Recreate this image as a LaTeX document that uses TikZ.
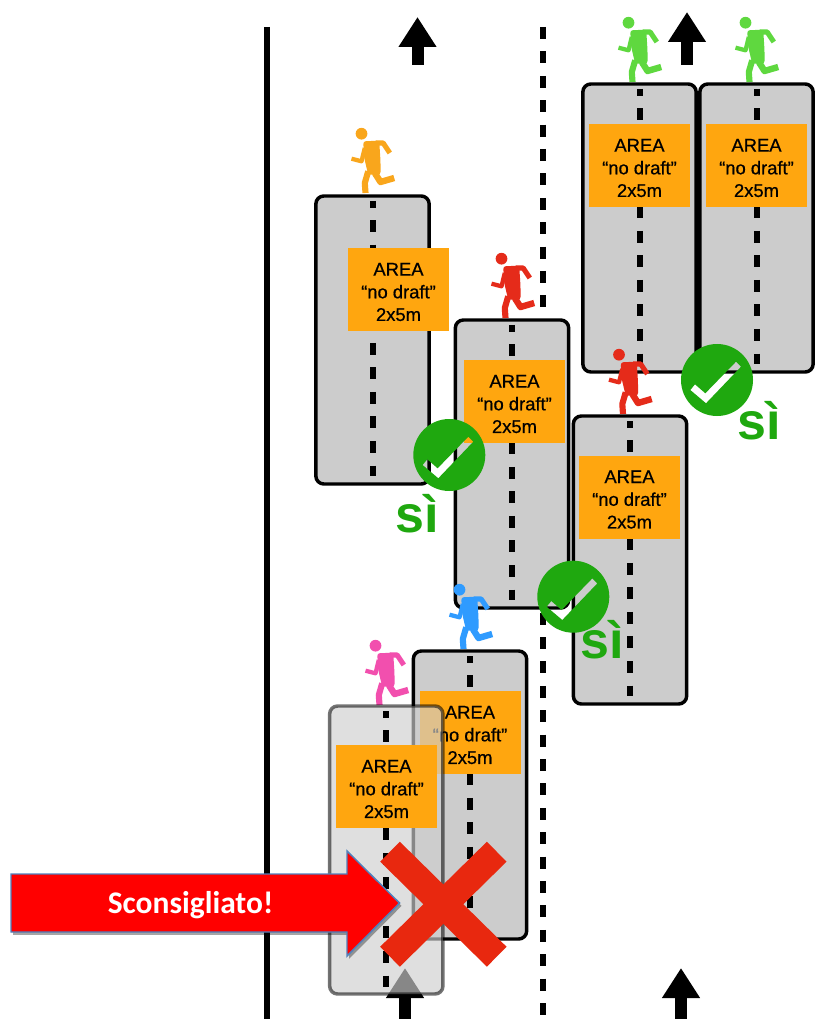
\documentclass[tikz,border=0pt]{standalone}
\usepackage{fontspec}
\setmainfont{Liberation Sans}
\newfontfamily\areafont[FakeBold=0.6]{Liberation Sans}
\newfontfamily\warnfont{Carlito}
\usetikzlibrary{arrows.meta,shadows}
\definecolor{lanegray}{HTML}{CCCCCC}
\definecolor{fadegray}{gray}{.81}
\definecolor{areaorange}{HTML}{FFA60F}
\definecolor{badgegreen}{HTML}{1FA80F}
\definecolor{crossred}{HTML}{E8280F}
\definecolor{warnblue}{HTML}{4F81BD}
\definecolor{runorange}{HTML}{F9A61C}
\definecolor{runred}{HTML}{E52B1A}
\definecolor{rungreen}{HTML}{5FD83F}
\definecolor{runblue}{HTML}{2F9BFF}
\definecolor{runpink}{HTML}{F24FAE}
\newcommand{\areatext}{\rule{0pt}{13.3pt}AREA\\“no draft”\\2x5m}
\tikzset{
	lanebox/.style={draw=black,fill=lanegray,line width=2.6pt,rounded corners=6pt,minimum width=85pt,minimum height=216pt,inner sep=0pt},
	lanedash/.style={line width=4.5pt,dash pattern=on 9pt off 9.4pt,dash phase=4pt},
	areabox/.style={fill=areaorange,minimum width=75.75pt,minimum height=62.25pt,inner sep=0pt,align=center,font=\areafont\fontsize{13.8}{17}\selectfont},
	uparrow/.style={line width=9pt,-{Triangle[width=27pt,length=22.5pt]}},
	silabel/.style={text=badgegreen,anchor=base,inner sep=0pt,font=\fontsize{39}{39}\selectfont\bfseries},
	pics/runner/.style={code={
		\fill[#1] (-4,-59.3) circle (4.4pt);
		\fill[#1,rounded corners=2pt] (-2.3,-51.7) -- (13.7,-52.3) -- (15,-31.7) -- (15,-18.3) -- (2.7,-18.3) -- (-1.3,-35) -- cycle;
		\draw[#1,line width=3.8pt,line join=round] (10,-50) -- (17.7,-50) -- (24.3,-40);
		\draw[#1,line width=3.2pt,line join=round] (-0.7,-45) -- (-4,-31.7) -- (-14,-34.3);
		\draw[#1,line width=4.8pt,line join=round] (9.3,-20) -- (15,-11) -- (28.7,-15);
		\draw[#1,line width=4.6pt,line join=round] (2.7,-21.7) -- (-0.7,-10) -- (0,0);
	}},
}
\begin{document}
\begin{tikzpicture}[x=0.75pt,y=-0.75pt]
	\useasboundingbox (0,0) rectangle (816,1019);
	\fill[white] (0,0) rectangle (816,1019);
	%Road lines
	\coordinate (edgetop) at (267,27);
	\coordinate (edgebottom) at (267,1019);
	\coordinate (middletop) at (543,27);
	\coordinate (middlebottom) at (543,1019);
	\draw[line width=4.5pt] (edgetop) -- (edgebottom);
	\draw[line width=4.5pt,dash pattern=on 9pt off 9.3pt] (middletop) -- (middlebottom);
	%Direction arrows
	\foreach \x/\ya/\yb in {417.5/65/17,687/65/12,405/1019/968,681/1019/968}
		{
			\draw[uparrow] (\x,\ya) -- (\x,\yb);
		}
	%Lanes
	\foreach \name/\x/\y/\ax/\ay in {F/470/795/470/732.5,A/372.5/340/398.5/289.5,B/512/464/514.5/401.5,C/630/560/629.5/497,D/639.5/228/639.5/165.5,E/756.5/228/756.5/165.5}
		{
			\node[lanebox] (lane\name) at (\x,\y) {};
			\draw[lanedash] (\x,\y-139) -- (\x,\y+136);
			\node[areabox] (area\name) at (\ax,\ay) {\areatext};
		}
	%Runners
	\pic at (365.5,193) {runner=runorange};
	\pic at (505.5,318) {runner=runred};
	\pic at (623,414) {runner=runred};
	\pic at (632.5,82) {runner=rungreen};
	\pic at (749.5,82) {runner=rungreen};
	\pic at (463.5,649) {runner=runblue};
	\pic at (379.5,705) {runner=runpink};
	%Faded lane
	\node[lanebox,draw=black,draw opacity=.55,fill=fadegray,fill opacity=.655] (laneG) at (386.3,850) {};
	\draw[lanedash] (386.3,711) -- (386.3,987);
	\node[areabox] (areaG) at (386.5,786.5) {\areatext};
	%Badges with the check cut out
	\foreach \x/\y in {449.3/455,573.3/596.7,717/380}
		{
			\fill[badgegreen,even odd rule,shift={(\x,\y)}] (0,0) circle (27pt)
				(-22,4.3) -- (-26.7,10) -- (-11,23.3) -- (24,-13.3) -- (19,-18.3) -- (-11.7,13.3) -- cycle;
		}
	\node[silabel] (siA) at (417,532) {sì};
	\node[silabel] (siB) at (602,658) {sì};
	\node[silabel] (siC) at (759,439) {sì};
	%Cross
	\coordinate (crossa) at (390,851.7);
	\coordinate (crossb) at (496.7,956.7);
	\coordinate (crossc) at (496.7,851.7);
	\coordinate (crossd) at (390,956.7);
	\draw[crossred,line width=21pt] (crossa) -- (crossb);
	\draw[crossred,line width=21pt] (crossc) -- (crossd);
	%Warning arrow
	\draw[warnblue,fill=red,line width=1.1pt,drop shadow={shadow xshift=1.5pt,shadow yshift=-2.2pt,opacity=.35,fill=black}]
		(11,874) -- (347,874) -- (347,851) -- (399.5,903) -- (347,956) -- (347,932) -- (11,932) -- cycle;
	\node[text=white,inner sep=0pt,font=\warnfont\fontsize{23.6}{28}\selectfont\bfseries] (warning) at (190.5,905) {Sconsigliato!};
\end{tikzpicture}
\end{document}
